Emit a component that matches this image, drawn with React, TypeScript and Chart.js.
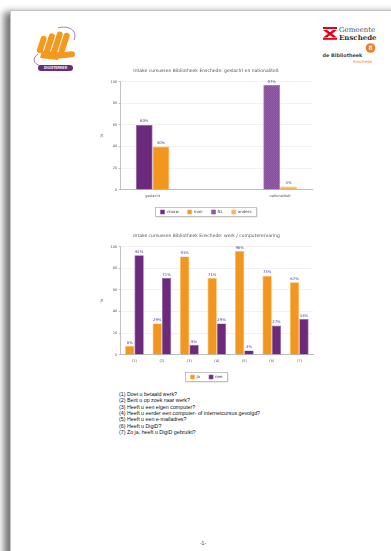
import React, { useEffect, useRef } from "react";
import { Chart, registerables } from "chart.js";
Chart.register(...registerables);

// ---- data ----
const chart1Title = "Intake cursussen Bibliotheek Enschede: geslacht en nationaliteit";
const chart1Categories = ["geslacht", "", "nationaliteit"];
const vrouwValues = [60, null, null];
const manValues = [40, null, null];
const nlValues = [null, null, 97];
const andersValues = [null, null, 3];

const chart2Title = "Intake cursussen Bibliotheek Enschede: werk / computerervaring";
const chart2Categories = ["(1)", "(2)", "(3)", "(4)", "(5)", "(6)", "(7)"];
const jaValues = [8, 29, 91, 71, 96, 73, 67];
const neeValues = [92, 71, 9, 29, 4, 27, 33];

const yMin = 0;
const yMax = 100;
const yStep = 20;

const questions = [
  "(1) Doet u betaald werk?",
  "(2) Bent u op zoek naar werk?",
  "(3) Heeft u een eigen computer?",
  "(4) Heeft u eerder een computer- of internetcursus gevolgd?",
  "(5) Heeft u een e-mailadres?",
  "(6) Heeft u DigiD?",
  "(7) Zo ja, heeft u DigiD gebruikt?",
];

// ---- styles ----
const PURPLE = "#6b2a7b";
const ORANGE = "#f3961f";
const FONT = '"DejaVu Sans", Verdana, sans-serif';

function makePattern(base: string, dot: string) {
  const c = document.createElement("canvas");
  c.width = 2;
  c.height = 2;
  const g = c.getContext("2d")!;
  g.fillStyle = base;
  g.fillRect(0, 0, 2, 2);
  g.fillStyle = dot;
  g.fillRect(0, 0, 1, 1);
  g.fillRect(1, 1, 1, 1);
  const ctx = document.createElement("canvas").getContext("2d")!;
  return ctx.createPattern(c, "repeat")!;
}

const valueLabelPlugin = {
  id: "valueLabels",
  afterDatasetsDraw(chart: any) {
    const ctx = chart.ctx;
    ctx.save();
    ctx.font = `3.8px ${FONT}`;
    ctx.fillStyle = "#3b3ba6";
    ctx.textAlign = "center";
    ctx.textBaseline = "bottom";
    chart.data.datasets.forEach((ds: any, di: number) => {
      const meta = chart.getDatasetMeta(di);
      meta.data.forEach((el: any, i: number) => {
        const v = ds.data[i];
        if (v === null || v === undefined) return;
        ctx.fillText(v + "%", el.x, el.y - 1.5);
      });
    });
    ctx.restore();
  },
};

const legendBoxPlugin = {
  id: "legendBox",
  afterDraw(chart: any) {
    const lg = chart.legend;
    if (!lg || !lg.legendHitBoxes || !lg.legendHitBoxes.length) return;
    const hb = lg.legendHitBoxes;
    const left = Math.min(...hb.map((h: any) => h.left)) - 5;
    const right = Math.max(...hb.map((h: any) => h.left + h.width)) + 5;
    const top = hb[0].top - 2.5;
    const bottom = hb[0].top + hb[0].height + 2.5;
    const ctx = chart.ctx;
    ctx.save();
    ctx.strokeStyle = "#b5b5b5";
    ctx.lineWidth = 0.8;
    ctx.strokeRect(left, top, right - left, bottom - top);
    ctx.strokeStyle = "rgba(0,0,0,0.12)";
    ctx.beginPath();
    ctx.moveTo(left + 1, bottom + 0.8);
    ctx.lineTo(right + 0.8, bottom + 0.8);
    ctx.lineTo(right + 0.8, top + 1);
    ctx.stroke();
    ctx.restore();
  },
};

function baseOptions(title: string, categoryPercentage: number) {
  return {
    responsive: false,
    animation: false as const,
    layout: { padding: { left: 0, right: 13, top: 0, bottom: 0 } },
    datasets: { bar: { categoryPercentage, barPercentage: 1, skipNull: true } },
    plugins: {
      title: {
        display: true,
        text: title,
        color: "#555",
        font: { family: FONT, size: 4.5, weight: "normal" as const },
        padding: { top: 6, bottom: 8.3 },
      },
      legend: {
        position: "bottom" as const,
        labels: {
          boxWidth: 4,
          boxHeight: 4,
          padding: 9,
          color: "#444",
          font: { family: FONT, size: 4 },
        },
      },
      tooltip: { enabled: false },
    },
    scales: {
      x: {
        grid: { display: false, drawTicks: true, tickLength: 2 },
        border: { color: "#999", width: 0.6 },
        ticks: { color: "#555", font: { family: FONT, size: 3.5 }, padding: 2, maxRotation: 0, autoSkip: false },
        afterFit: (s: any) => {
          s.height = 11.3;
        },
      },
      y: {
        min: yMin,
        max: yMax,
        ticks: { stepSize: yStep, color: "#555", font: { family: FONT, size: 3.5 }, padding: 1.5 },
        grid: { color: "#e8e8e8", lineWidth: 0.6, tickLength: 2, tickColor: "#999" },
        border: { color: "#999", width: 0.6 },
        title: { display: true, text: "%", color: "#555", font: { family: FONT, size: 4 }, padding: 0 },
        afterFit: (s: any) => {
          s.width = 20.7;
        },
      },
    },
  };
}

function ChartCanvas({ build, left, top }: { build: () => any; left: number; top: number }) {
  const ref = useRef<HTMLCanvasElement | null>(null);
  useEffect(() => {
    if (!ref.current) return;
    const chart = new Chart(ref.current, build());
    return () => chart.destroy();
  }, []);
  return (
    <canvas
      ref={ref}
      width={225}
      height={162}
      style={{ position: "absolute", left, top, width: 225, height: 162 }}
    />
  );
}

function buildChart1() {
  const nlPattern = makePattern("#874a9d", "#955eaa");
  const andersPattern = makePattern("#f6ab4b", "#f9bd70");
  return {
    type: "bar",
    data: {
      labels: chart1Categories,
      datasets: [
        { label: "vrouw", data: vrouwValues, backgroundColor: PURPLE, borderColor: "#8e5a9e", borderWidth: 0.7 },
        { label: "man", data: manValues, backgroundColor: ORANGE, borderColor: "#f8b862", borderWidth: 0.7 },
        { label: "NL", data: nlValues, backgroundColor: nlPattern, borderColor: "#9a66ad", borderWidth: 0.7 },
        { label: "anders", data: andersValues, backgroundColor: andersPattern, borderColor: "#f8bd6e", borderWidth: 0.7 },
      ],
    },
    options: baseOptions(chart1Title, 0.526),
    plugins: [valueLabelPlugin, legendBoxPlugin],
  };
}

function buildChart2() {
  const opts: any = baseOptions(chart2Title, 0.68);
  opts.layout.padding.right = 12;
  return {
    type: "bar",
    data: {
      labels: chart2Categories,
      datasets: [
        { label: "ja", data: jaValues, backgroundColor: ORANGE, borderColor: "#f8b862", borderWidth: 0.7 },
        { label: "nee", data: neeValues, backgroundColor: PURPLE, borderColor: "#8e5a9e", borderWidth: 0.7 },
      ],
    },
    options: opts,
    plugins: [valueLabelPlugin, legendBoxPlugin],
  };
}

function DigiLogo() {
  return (
    <svg style={{ position: "absolute", left: 28, top: 24 }} width={52} height={50} viewBox="0 0 52 50">
      <path d="M30 4 C40 1 50 6 46 16" stroke="#9a6bb8" strokeWidth="0.9" fill="none" />
      <path d="M10 30 C4 34 5 40 13 42" stroke="#9a6bb8" strokeWidth="0.9" fill="none" />
      <g transform="rotate(18 28 22)" fill="#f39a1e">
        <rect x="11" y="16" width="6" height="18" rx="3" />
        <rect x="18" y="11" width="6" height="22" rx="3" />
        <rect x="25" y="7" width="6" height="24" rx="3" />
        <rect x="32" y="6" width="6" height="22" rx="3" />
      </g>
      <path d="M12 34 L30 36 L31 28 L14 27 Z" fill="#f39a1e" />
      <rect x="28" y="28" width="19" height="6" rx="3" fill="#f39a1e" transform="rotate(-6 37 31)" />
      <rect x="10" y="41" width="35" height="6" rx="3" fill="#6a2c7a" />
      <text x="27.5" y="45.3" fontSize="3.4" fill="#fff" textAnchor="middle" fontWeight="bold" fontFamily="Liberation Sans, Arial">
        DIGISTERKER
      </text>
    </svg>
  );
}

function CityLogo() {
  return (
    <svg style={{ position: "absolute", left: 318, top: 24 }} width={66} height={44} viewBox="0 0 66 44">
      <g fill="#e2001a">
        <rect x="5" y="3" width="14" height="2" />
        <polygon points="5,6 9,6 19,13.5 15,13.5" />
        <polygon points="15,6 19,6 9,13.5 5,13.5" />
        <rect x="5" y="14" width="14" height="1.8" />
      </g>
      <text x="21" y="8" fontSize="7" fill="#555" fontFamily="DejaVu Serif, serif">
        Gemeente
      </text>
      <text x="21" y="15.5" fontSize="7" fill="#333" fontWeight="bold" fontFamily="DejaVu Serif, serif">
        Enschede
      </text>
      <circle cx="52.5" cy="24" r="4.8" fill="#f47c20" />
      <text x="52.5" y="26.2" fontSize="6" fill="#fff" textAnchor="middle" fontWeight="bold" fontFamily="DejaVu Sans">
        8
      </text>
      <text x="4.5" y="33" fontSize="4.9" fill="#444" fontWeight="bold" fontFamily="DejaVu Sans, sans-serif">
        de Bibliotheek
      </text>
      <text x="54" y="39.3" fontSize="3.9" fill="#f47c20" textAnchor="end" fontFamily="DejaVu Sans, sans-serif">
        Enschede
      </text>
    </svg>
  );
}

export default function App() {
  return (
    <div
      style={{
        position: "fixed",
        left: 0,
        top: 0,
        width: 391,
        height: 551,
        overflow: "hidden",
        background: "#fff",
      }}
    >
      <div
        style={{
          position: "absolute",
          left: 10,
          top: 10,
          width: 430,
          height: 620,
          border: "1px solid #c4c4c4",
          boxShadow: "-6px 2px 7px rgba(0,0,0,0.55)",
          background: "#fff",
        }}
      />
      <DigiLogo />
      <CityLogo />
      <ChartCanvas build={buildChart1} left={100} top={62} />
      <ChartCanvas build={buildChart2} left={100} top={227} />
      <div
        style={{
          position: "absolute",
          left: 119,
          top: 391,
          fontFamily: '"Liberation Sans", Arial, sans-serif',
          fontSize: 5.3,
          lineHeight: "6.33px",
          color: "#111",
          whiteSpace: "nowrap",
        }}
      >
        {questions.map((q) => (
          <div key={q}>{q}</div>
        ))}
      </div>
      <div
        style={{
          position: "absolute",
          left: 193,
          width: 20,
          top: 540,
          textAlign: "center",
          fontFamily: '"Liberation Sans", Arial, sans-serif',
          fontSize: 5,
          color: "#333",
        }}
      >
        -1-
      </div>
    </div>
  );
}
